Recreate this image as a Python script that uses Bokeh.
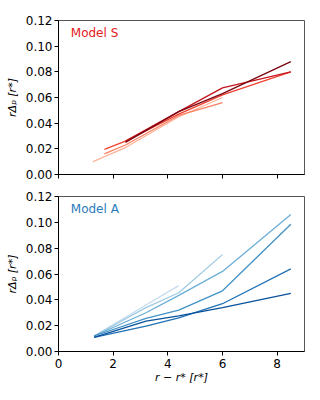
from bokeh.plotting import figure
from bokeh.layouts import column
from bokeh.models import FixedTicker, Label
from bokeh.embed import file_html
from bokeh.resources import INLINE

# ---- data ----
x_ticks = [0, 2, 4, 6, 8]
y_ticks = [0.0, 0.02, 0.04, 0.06, 0.08, 0.10, 0.12]
y_tick_labels = ["0.00", "0.02", "0.04", "0.06", "0.08", "0.10", "0.12"]

s_x = [
    [1.26, 2.45, 4.4, 6.0],
    [1.68, 2.45, 4.4, 6.0],
    [1.68, 2.45, 4.4, 6.0, 8.5],
    [2.45, 4.4, 6.0, 8.5],
    [2.45, 4.4, 6.0, 8.5],
]
s_y = [
    [0.010, 0.021, 0.045, 0.060],
    [0.016, 0.023, 0.046, 0.056],
    [0.0195, 0.026, 0.047, 0.062, 0.080],
    [0.026, 0.049, 0.0675, 0.080],
    [0.025, 0.049, 0.063, 0.088],
]
s_colors = ["#fcb499", "#fb8060", "#f0402f", "#c4161c", "#7a0510"]

a_x = [
    [1.3, 3.2, 4.4],
    [1.3, 3.2, 4.4, 6.0],
    [1.3, 3.2, 4.4, 6.0, 8.5],
    [1.3, 3.2, 4.4, 6.0, 8.5],
    [1.3, 3.2, 4.4, 6.0, 8.5],
    [1.3, 3.2, 4.4, 6.0, 8.5],
]
a_y = [
    [0.012, 0.036, 0.051],
    [0.012, 0.034, 0.0455, 0.075],
    [0.012, 0.030, 0.0434, 0.062, 0.106],
    [0.012, 0.0256, 0.032, 0.047, 0.0985],
    [0.011, 0.0197, 0.026, 0.037, 0.064],
    [0.011, 0.0235, 0.0275, 0.034, 0.045],
]
a_colors = ["#c6dbef", "#9ecae1", "#6baed6", "#4292c6", "#2171b5", "#08519c"]

FONT = "DejaVu Sans"


def style(p, show_xlabels):
    p.xaxis.ticker = FixedTicker(ticks=x_ticks)
    p.yaxis.ticker = FixedTicker(ticks=y_ticks)
    p.yaxis.major_label_overrides = {t: l for t, l in zip(y_ticks, y_tick_labels)}
    p.xgrid.visible = False
    p.ygrid.visible = False
    for ax in (p.xaxis[0], p.yaxis[0]):
        ax.minor_tick_line_color = None
        ax.major_tick_out = 4
        ax.major_tick_in = 0
        ax.axis_line_color = "black"
        ax.major_tick_line_color = "black"
        ax.major_label_text_font = FONT
        ax.major_label_text_font_size = "12px"
        ax.major_label_text_color = "black"
        ax.axis_label_text_font = FONT
        ax.axis_label_text_font_size = "11px"
        ax.axis_label_text_font_style = "italic"
        ax.axis_label_text_color = "black"
        ax.axis_label_standoff = 4
    p.yaxis.major_label_standoff = 2
    p.yaxis.axis_label = "rΔₚ [r*]"
    if not show_xlabels:
        p.xaxis.major_label_overrides = {t: "" for t in x_ticks}
        p.xaxis.major_label_standoff = 0
    else:
        p.xaxis.major_label_standoff = 3
        p.xaxis.axis_label_standoff = 0
    p.outline_line_color = "#555555"
    p.outline_line_width = 1
    p.background_fill_color = "white"
    p.border_fill_color = "white"


p1 = figure(frame_width=246, frame_height=154, x_range=(0, 9), y_range=(0, 0.12),
            output_backend="svg", toolbar_location=None,
            min_border_left=58, min_border_right=16, min_border_top=20, min_border_bottom=8)
for xs, ys, c in zip(s_x, s_y, s_colors):
    p1.line(xs, ys, line_color=c, line_width=1.3)
style(p1, False)
p1.add_layout(Label(x=0.45, y=0.1105, text="Model S", text_color="#e3191c",
                    text_font=FONT, text_font_size="12px", text_baseline="middle"))

p2 = figure(frame_width=246, frame_height=155, x_range=(0, 9), y_range=(0, 0.12),
            output_backend="svg", toolbar_location=None,
            min_border_left=58, min_border_right=16, min_border_top=14, min_border_bottom=10)
for xs, ys, c in zip(a_x, a_y, a_colors):
    p2.line(xs, ys, line_color=c, line_width=1.3)
style(p2, True)
p2.xaxis.axis_label = "r − r* [r*]"
p2.add_layout(Label(x=0.45, y=0.1105, text="Model A", text_color="#2b7bbb",
                    text_font=FONT, text_font_size="12px", text_baseline="middle"))

layout = column(p1, p2, spacing=0)
open("out.html", "w").write(file_html(layout, INLINE))
